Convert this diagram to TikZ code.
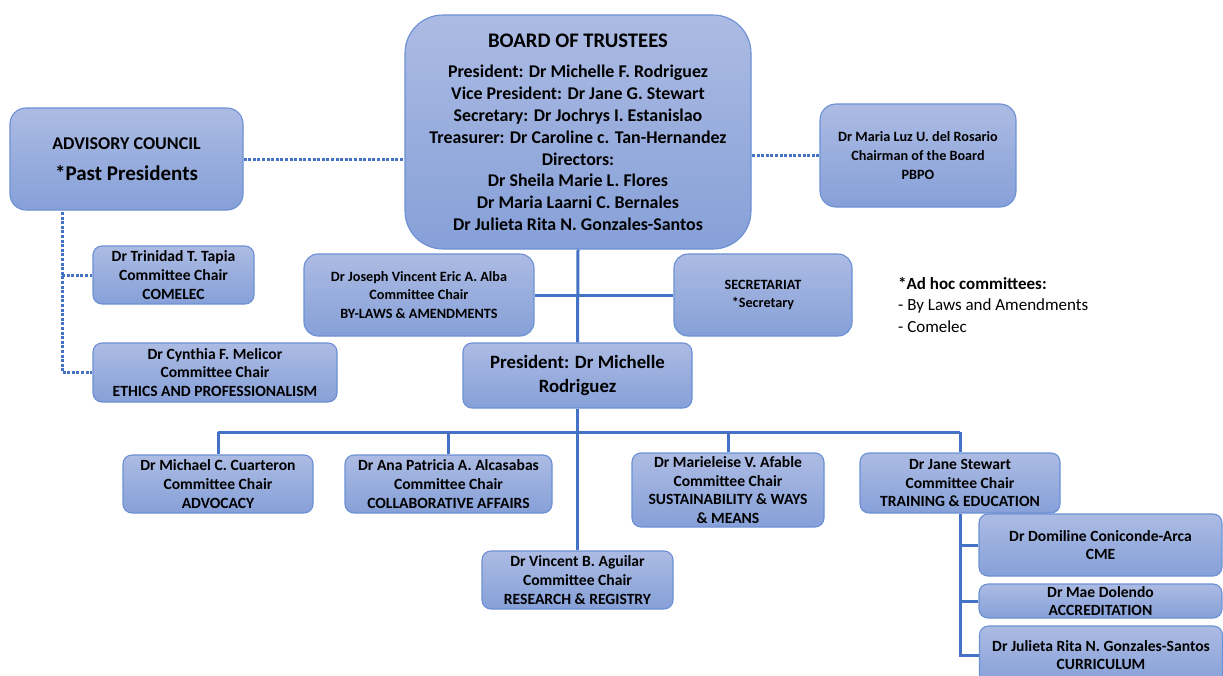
\documentclass[tikz,border=0pt]{standalone}
\usepackage{fontspec}
\setmainfont{Carlito}
\definecolor{boxtop}{RGB}{172,187,227}
\definecolor{boxbot}{RGB}{134,160,216}
\definecolor{boxline}{RGB}{108,144,212}
\definecolor{conn}{RGB}{68,114,196}
\begin{document}
\begin{tikzpicture}[x=1pt,y=-1pt,
  box/.style={draw=boxline, line width=1.1pt, top color=boxtop, bottom color=boxbot,
    rounded corners=9pt, inner sep=0pt, align=center, font=\bfseries\fontsize{15.6}{18.6}\selectfont},
  smalltext/.style={font=\bfseries\fontsize{14.2}{18.8}\selectfont},
  solidline/.style={draw=conn, line width=3pt},
  dotline/.style={draw=conn, line width=3pt, dash pattern=on 3pt off 1.6pt}]
\useasboundingbox (0,0) rectangle (1223,675);
\clip (0,0) rectangle (1223,675);
\fill[white] (0,0) rectangle (1223,675);

% Board
\node[box, rounded corners=38pt, minimum width=346pt, minimum height=234pt, font=\bfseries\fontsize{17.9}{21.8}\selectfont] (board) at (578,132)
 {{\fontsize{20.7}{22}\selectfont BOARD OF TRUSTEES}\\[9pt]
  President: Dr Michelle F. Rodriguez\\
  Vice President: Dr Jane G. Stewart\\
  Secretary: Dr Jochrys I. Estanislao\\
  Treasurer: Dr Caroline c. Tan-Hernandez\\
  Directors:\\
  Dr Sheila Marie L. Flores\\
  Dr Maria Laarni C. Bernales\\
  Dr Julieta Rita N. Gonzales-Santos};

% Advisory
\node[box, rounded corners=16pt, minimum width=233pt, minimum height=102pt, font=\bfseries\fontsize{18}{20}\selectfont] (adv) at (126.5,159)
 {ADVISORY COUNCIL\\[11pt]{\fontsize{21}{23}\selectfont *Past Presidents}};

% PBPO
\node[box, smalltext, rounded corners=16pt, minimum width=196pt, minimum height=103pt] (pbpo) at (918,155.5)
 {Dr Maria Luz U. del Rosario\\Chairman of the Board\\PBPO};

% Left committees
\node[box, minimum width=161pt, minimum height=58pt] (trin) at (173.5,275)
 {Dr Trinidad T. Tapia\\Committee Chair\\COMELEC};
\node[box, minimum width=244pt, minimum height=59pt] (cyn) at (215,372.5)
 {Dr Cynthia F. Melicor\\Committee Chair\\ETHICS AND PROFESSIONALISM};

% Second row
\node[box, smalltext, rounded corners=14pt, minimum width=230pt, minimum height=82pt] (jos) at (419,295)
 {Dr Joseph Vincent Eric A. Alba\\Committee Chair\\BY-LAWS \& AMENDMENTS};
\node[box, smalltext, rounded corners=14pt, minimum width=178pt, minimum height=82pt] (sec) at (763,295)
 {SECRETARIAT\\*Secretary};

% President
\node[box, minimum width=229pt, minimum height=65pt, font=\bfseries\fontsize{18.8}{24}\selectfont] (pres) at (577.5,375.5)
 {President: Dr Michelle\\Rodriguez};

% Committees row
\node[box, minimum width=190pt, minimum height=58pt] (mic) at (218,484)
 {Dr Michael C. Cuarteron\\Committee Chair\\ADVOCACY};
\node[box, minimum width=207pt, minimum height=58pt] (ana) at (448.5,484)
 {Dr Ana Patricia A. Alcasabas\\Committee Chair\\COLLABORATIVE AFFAIRS};
\node[box, minimum width=192pt, minimum height=74pt] (mar) at (728,490)
 {Dr Marieleise V. Afable\\Committee Chair\\SUSTAINABILITY \& WAYS\\\& MEANS};
\node[box, minimum width=200pt, minimum height=60pt] (jane) at (960,483)
 {Dr Jane Stewart\\Committee Chair\\TRAINING \& EDUCATION};
\node[box, minimum width=191pt, minimum height=58pt] (vin) at (577.5,580)
 {Dr Vincent B. Aguilar\\Committee Chair\\RESEARCH \& REGISTRY};

% Training sub-committees
\node[box, minimum width=243pt, minimum height=62pt] (dom) at (1100.5,545)
 {Dr Domiline Coniconde-Arca\\CME};
\node[box, minimum width=243pt, minimum height=34pt] (mae) at (1100.5,601)
 {Dr Mae Dolendo\\ACCREDITATION};
\node[box, minimum width=243pt, minimum height=58pt] (jul) at (1101,655)
 {Dr Julieta Rita N. Gonzales-Santos\\CURRICULUM};

% Ad hoc note
\node[anchor=north west, align=left, inner sep=0pt, font=\fontsize{17}{21.5}\selectfont] (adhoc) at (898,277)
 {\textbf{*Ad hoc committees:}\\- By Laws and Amendments\\- Comelec};

% Dotted connectors
\draw[dotline] (adv.east) -- (adv.east -| board.west);
\draw[dotline] (pbpo.west) -- (pbpo.west -| board.east);
\coordinate (advtop) at (62,212);
\draw[dotline] (advtop) |- (cyn.west);
\draw[dotline] (advtop |- trin.west) -- (trin.west);

% Solid connectors
\coordinate (bus) at (578,432);
\draw[solidline] (board.south) -- (pres.north);
\draw[solidline] (jos.east) -- (sec.west);
\draw[solidline] (pres.south) -- (vin.north);
\draw[solidline] (mic.north |- bus) -- (jane.north |- bus);
\draw[solidline] (mic.north |- bus) -- (mic.north);
\draw[solidline] (ana.north |- bus) -- (ana.north);
\draw[solidline] (mar.north |- bus) -- (mar.north);
\draw[solidline] (jane.north |- bus) -- (jane.north);
\draw[solidline] (jane.south) |- (jul.west);
\draw[solidline] (jane.south |- dom.west) -- (dom.west);
\draw[solidline] (jane.south |- mae.west) -- (mae.west);
\end{tikzpicture}
\end{document}
